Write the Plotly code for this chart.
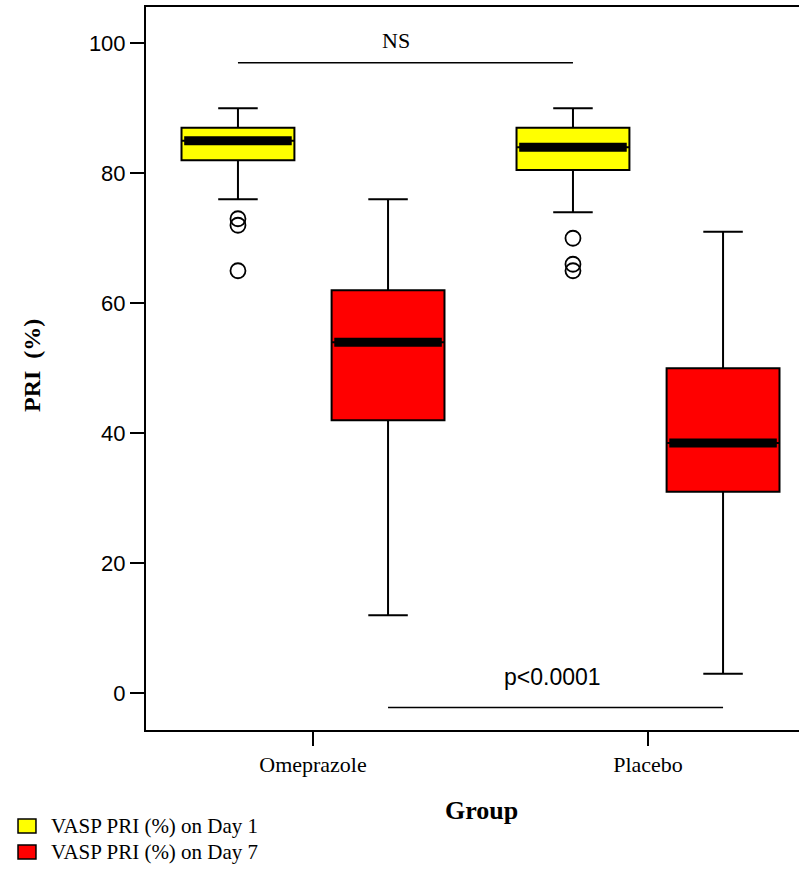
import plotly.graph_objects as go

# ---- data ----
groups = ["Omeprazole", "Placebo"]
group_pos = [1, 2]
series_names = ["VASP PRI (%) on Day 1", "VASP PRI (%) on Day 7"]
series_colors = ["#FFFF00", "#FF0000"]

# per series: values for [Omeprazole, Placebo]
day1_lowerfence = [76, 74]
day1_q1 = [82, 80.5]
day1_median = [85, 84]
day1_q3 = [87, 87]
day1_upperfence = [90, 90]
day1_outliers = [[73, 72, 65], [70, 66, 65]]

day7_lowerfence = [12, 3]
day7_q1 = [42, 31]
day7_median = [54, 38.5]
day7_q3 = [62, 50]
day7_upperfence = [76, 71]
day7_outliers = [[], []]

yticks = [0, 20, 40, 60, 80, 100]
ns_label = "NS"
ns_y = 97
p_label = "p<0.0001"
p_y = -2.2

# ---- layout constants ----
offsets = [-0.224, 0.224]
box_w = 0.337

series = [
    dict(lf=day1_lowerfence, q1=day1_q1, med=day1_median, q3=day1_q3, uf=day1_upperfence, out=day1_outliers),
    dict(lf=day7_lowerfence, q1=day7_q1, med=day7_median, q3=day7_q3, uf=day7_upperfence, out=day7_outliers),
]

fig = go.Figure()

for si, s in enumerate(series):
    xs = [g + offsets[si] for g in group_pos]
    fig.add_trace(go.Box(
        x=xs, q1=s["q1"], median=s["med"], q3=s["q3"],
        lowerfence=s["lf"], upperfence=s["uf"],
        width=box_w, whiskerwidth=0.35,
        fillcolor=series_colors[si],
        line=dict(color="black", width=2),
        name=series_names[si], boxpoints=False,
        hoverinfo="skip", showlegend=False,
    ))
    # thick median bars
    for gi, x in enumerate(xs):
        fig.add_trace(go.Scatter(
            x=[x - box_w / 2 + 0.008, x + box_w / 2 - 0.008], y=[s["med"][gi]] * 2,
            mode="lines", line=dict(color="black", width=9),
            showlegend=False, hoverinfo="skip",
        ))
        if s["out"][gi]:
            fig.add_trace(go.Scatter(
                x=[x] * len(s["out"][gi]), y=s["out"][gi], mode="markers",
                marker=dict(symbol="circle-open", size=15, color="black", line=dict(width=1.8)),
                showlegend=False, hoverinfo="skip",
            ))

# significance lines
fig.add_trace(go.Scatter(
    x=[group_pos[0] + offsets[0], group_pos[1] + offsets[0]], y=[ns_y, ns_y],
    mode="lines", line=dict(color="black", width=1.5), showlegend=False, hoverinfo="skip"))
fig.add_trace(go.Scatter(
    x=[group_pos[0] + offsets[1], group_pos[1] + offsets[1]], y=[p_y, p_y],
    mode="lines", line=dict(color="black", width=1.5), showlegend=False, hoverinfo="skip"))

serif = "Liberation Serif, Times New Roman, serif"
sans = "Liberation Sans, Arial, sans-serif"

fig.add_annotation(x=1.248, y=100.4, text=ns_label, showarrow=False,
                   xanchor="center", yanchor="middle",
                   font=dict(family=serif, size=22, color="black"))
fig.add_annotation(x=1.716, y=2.5, text=p_label, showarrow=False,
                   xanchor="center", yanchor="middle",
                   font=dict(family=sans, size=23, color="black"))
fig.add_annotation(x=0.5145, xref="paper", y=-0.1107, yref="paper", text="<b>Group</b>",
                   xanchor="center", yanchor="middle",
                   showarrow=False, font=dict(family=serif, size=26, color="black"))
fig.add_annotation(x=-0.1746, xref="paper", y=0.5048, yref="paper", text="<b>PRI  (%)</b>",
                   xanchor="center", yanchor="middle",
                   textangle=-90, showarrow=False, font=dict(family=serif, size=24, color="black"))

# legend (drawn as keys + labels below the plot, left aligned)
legend_key_x = (-0.196, -0.1685)
legend_rows_y = [(-0.1425, -0.1231), (-0.1784, -0.1591)]
legend_text_x = -0.1485
for i, name in enumerate(series_names):
    y0, y1 = legend_rows_y[i]
    fig.add_shape(type="rect", xref="paper", yref="paper",
                  x0=legend_key_x[0], x1=legend_key_x[1], y0=y0, y1=y1,
                  fillcolor=series_colors[i], line=dict(color="black", width=1.5))
    fig.add_annotation(x=legend_text_x, xref="paper", y=(y0 + y1) / 2, yref="paper",
                       text=name, showarrow=False, xanchor="left", yanchor="middle",
                       font=dict(family=serif, size=21, color="black"))

fig.update_layout(
    width=799, height=869,
    margin=dict(l=146, r=0, t=7, b=139, autoexpand=False),
    paper_bgcolor="white", plot_bgcolor="white",
    showlegend=False,
    xaxis=dict(range=[0.5015, 2.4507], tickvals=group_pos, ticktext=groups,
               showgrid=False, zeroline=False, showline=True, linecolor="black",
               linewidth=2, mirror=True, ticks="outside", ticklen=14, tickwidth=2,
               tickcolor="black", tickfont=dict(family=serif, size=22, color="black")),
    yaxis=dict(range=[-5.65, 105.58], tickvals=yticks,
               showgrid=False, zeroline=False, showline=True, linecolor="black",
               linewidth=2, ticks="outside", ticklen=14, tickwidth=2,
               tickcolor="black", tickfont=dict(family=sans, size=22, color="black")),
)

fig.write_html("out.html", config={"displayModeBar": False},
               post_script="document.body.style.margin='0px';")
